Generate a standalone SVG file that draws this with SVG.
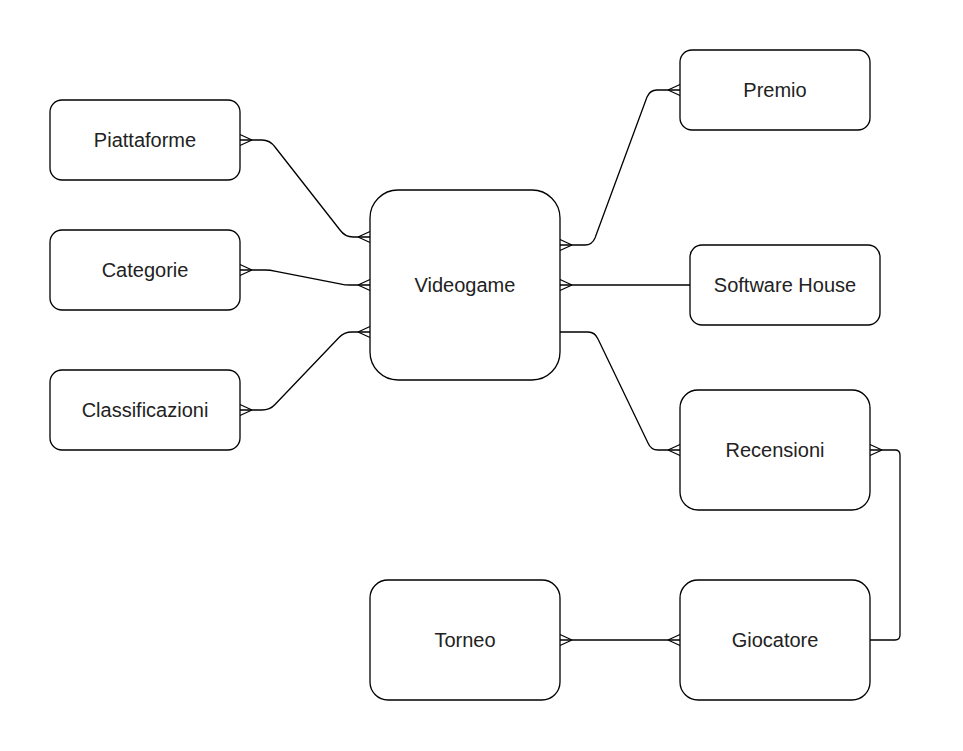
<svg xmlns="http://www.w3.org/2000/svg" width="963" height="751" viewBox="0 0 963 751">
<defs>
<style>
.box{fill:#fff;stroke:#000;stroke-width:1.3}
.lbl{font-family:"Liberation Sans",Arial,sans-serif;font-size:20px;fill:#222;text-anchor:middle}
.edge{fill:none;stroke:#000;stroke-width:1.3}
.m2{marker-start:url(#crow);marker-end:url(#crow)}
.ms{marker-start:url(#crow)}
.me{marker-end:url(#crow)}
</style>
<marker id="crow" markerUnits="userSpaceOnUse" viewBox="-14 -7 15 14" refX="0" refY="0" markerWidth="15" markerHeight="14" orient="auto-start-reverse" overflow="visible">
<path d="M-12 0 L0 -5.5 M-12 0 L0 5.5" fill="none" stroke="#000" stroke-width="1.2"/>
</marker>
</defs>
<rect width="963" height="751" fill="#fff"/>
<g id="connectors">
<path class="edge m2" d="M240 140 H262 Q270 140 275 147 L340 230 Q345 237 353 237 H370"/>
<path class="edge m2" d="M240 270 H265 Q270 270 276 271.3 L340 283.8 Q345 285 350 285 H370"/>
<path class="edge m2" d="M240 410 H262 Q270 410 275 404.5 L339 337.5 Q344 332 352 332 H370"/>
<path class="edge m2" d="M560 245 H585 Q592 245 595 238 L647 97 Q650 90 657 90 H680"/>
<path class="edge ms" d="M560 285 H690"/>
<path class="edge me" d="M560 332 H588 Q595 332 598 339 L648 443 Q651 450 658 450 H680"/>
<path class="edge m2" d="M560 640 H680"/>
<path class="edge ms" d="M870 450 H895 Q900 450 900 455 V635 Q900 640 895 640 H870"/>
</g>
<g id="piattaforme"><rect class="box" x="50" y="100" width="190" height="80" rx="12"/><text class="lbl" x="145" y="147">Piattaforme</text></g>
<g id="categorie"><rect class="box" x="50" y="230" width="190" height="80" rx="12"/><text class="lbl" x="145" y="277">Categorie</text></g>
<g id="classificazioni"><rect class="box" x="50" y="370" width="190" height="80" rx="12"/><text class="lbl" x="145" y="417">Classificazioni</text></g>
<g id="videogame"><rect class="box" x="370" y="190" width="190" height="190" rx="28"/><text class="lbl" x="465" y="292">Videogame</text></g>
<g id="premio"><rect class="box" x="680" y="50" width="190" height="80" rx="12"/><text class="lbl" x="775" y="97">Premio</text></g>
<g id="softwarehouse"><rect class="box" x="690" y="245" width="190" height="80" rx="12"/><text class="lbl" x="785" y="292">Software House</text></g>
<g id="recensioni"><rect class="box" x="680" y="390" width="190" height="120" rx="18"/><text class="lbl" x="775" y="457">Recensioni</text></g>
<g id="giocatore"><rect class="box" x="680" y="580" width="190" height="120" rx="18"/><text class="lbl" x="775" y="647">Giocatore</text></g>
<g id="torneo"><rect class="box" x="370" y="580" width="190" height="120" rx="18"/><text class="lbl" x="465" y="647">Torneo</text></g>
</svg>
